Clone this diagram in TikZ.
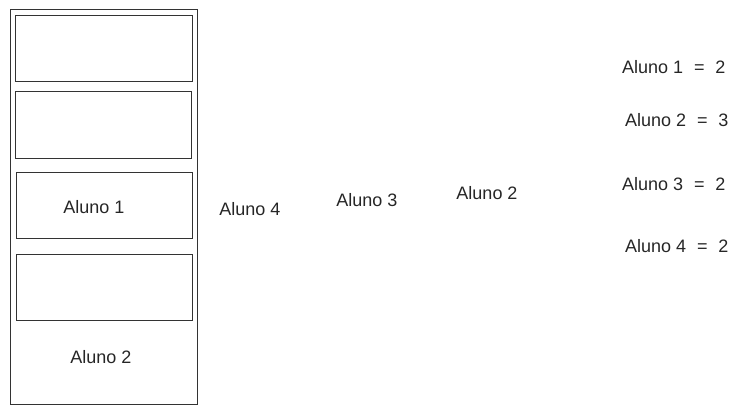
\documentclass[tikz,border=0pt]{standalone}
\usepackage{fontspec}
\setmainfont{Liberation Sans}
\begin{document}
\begin{tikzpicture}[x=1pt,y=-1pt,
  box/.style={draw=black!80,line width=0.9pt},
  lbl/.style={font=\fontsize{18}{20}\selectfont,text=black!85,inner sep=0pt}]
\useasboundingbox (0,0) rectangle (754,413);
\draw[box] (10,9) rectangle (197,404);
\node[box,minimum width=177pt,minimum height=66pt,inner sep=0pt] (b1) at (103.5,48) {};
\node[box,minimum width=176pt,minimum height=67pt,inner sep=0pt] (b2) at (103,124.5) {};
\node[box,minimum width=176pt,minimum height=66pt,inner sep=0pt] (b3) at (104,205) {};
\node[box,minimum width=176pt,minimum height=66pt,inner sep=0pt] (b4) at (104,287) {};
\node[lbl] (a1) at (94,207) {Aluno 1};
\node[lbl] (a2) at (101,357) {Aluno 2};
\node[lbl] (m4) at (250,209) {Aluno 4};
\node[lbl] (m3) at (367,200) {Aluno 3};
\node[lbl] (m2) at (487,193) {Aluno 2};
\node[lbl,anchor=west] (r1) at (622,67) {Aluno 1\hspace{0.6em}=\hspace{0.6em}2};
\node[lbl,anchor=west] (r2) at (625,120) {Aluno 2\hspace{0.6em}=\hspace{0.6em}3};
\node[lbl,anchor=west] (r3) at (622,184) {Aluno 3\hspace{0.6em}=\hspace{0.6em}2};
\node[lbl,anchor=west] (r4) at (625,246) {Aluno 4\hspace{0.6em}=\hspace{0.6em}2};
\end{tikzpicture}
\end{document}
